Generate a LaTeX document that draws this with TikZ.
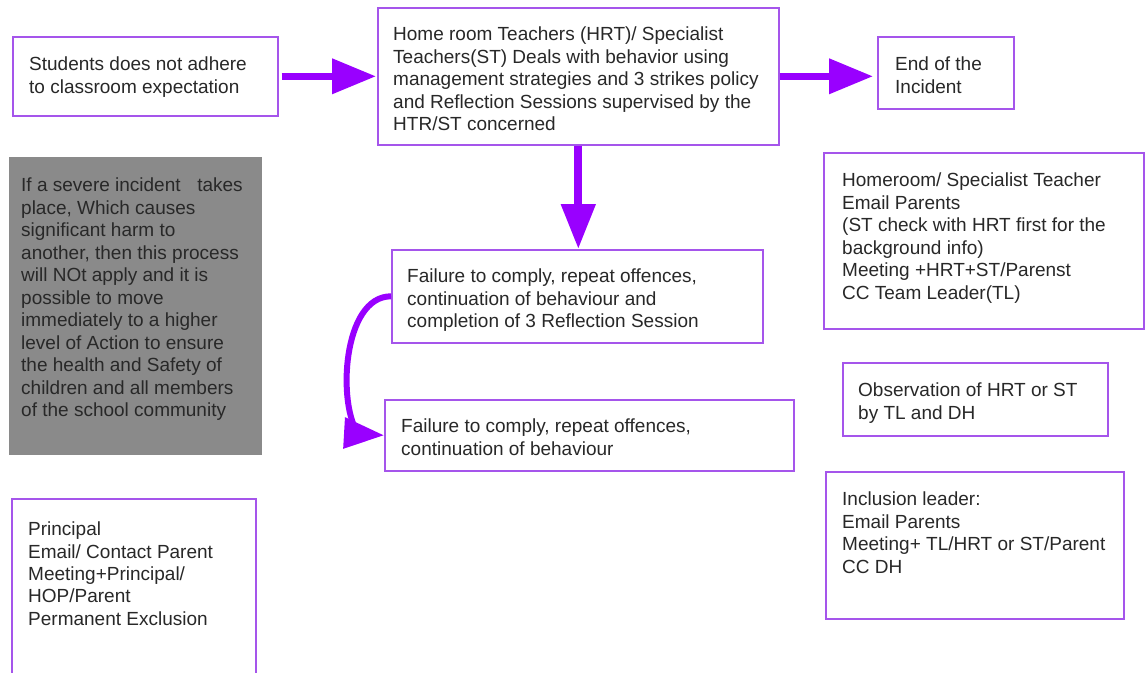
\documentclass[tikz,border=0pt]{standalone}
\usepackage{fontspec}
\setmainfont{Liberation Sans}
\usetikzlibrary{arrows.meta,bending}
\definecolor{flowpurple}{RGB}{153,0,255}
\definecolor{boxpurple}{RGB}{165,85,235}
\definecolor{notegray}{RGB}{138,138,138}
\definecolor{txtgray}{RGB}{40,40,40}

\begin{document}
\begin{tikzpicture}[x=1pt,y=-1pt,
  box/.style={draw=boxpurple,line width=1.6pt,fill=white,anchor=north west,inner sep=0pt},
  note/.style={fill=notegray,anchor=north west,inner sep=0pt},
  txt/.style={anchor=north west,inner sep=0pt,align=left,text=txtgray,font=\fontsize{19}{#1}\selectfont},
  txt/.default=22.5,
  flow/.style={-{Triangle[length=44pt,width=34pt]},line width=7pt,draw=flowpurple}]
\useasboundingbox[fill=white] (0,0) rectangle (1145,672);
\clip (0,0) rectangle (1145,672);

% top row
\node[box,minimum width=265pt,minimum height=79pt] (students) at (12,36) {};
\node[txt] (studentstxt) at ([shift={(17,21)}]students.north west)
  {Students does not adhere\\to classroom expectation};

\node[box,minimum width=401pt,minimum height=137pt] (hrt) at (377,7) {};
\node[txt] (hrttxt) at ([shift={(16,20)}]hrt.north west)
  {Home room Teachers (HRT)/ Specialist\\Teachers(ST) Deals with behavior using\\management strategies and 3 strikes policy\\and Reflection Sessions supervised by the\\HTR/ST concerned};

\node[box,minimum width=136pt,minimum height=72pt] (end) at (877,36) {};
\node[txt] (endtxt) at ([shift={(18,21)}]end.north west) {End of the\\Incident};

% left column
\node[note,minimum width=253pt,minimum height=298pt] (severe) at (9,157) {};
\node[txt] (severetxt) at ([shift={(12,21)}]severe.north west)
  {If a severe incident\hspace{0.6em} takes\\place, Which causes\\significant harm to\\another, then this process\\will NOt apply and it is\\possible to move\\immediately to a higher\\level of Action to ensure\\the health and Safety of\\children and all members\\of the school community};

\node[box,minimum width=244pt,minimum height=190pt] (principal) at (11,498) {};
\node[txt=22.3] (principaltxt) at ([shift={(17,24)}]principal.north west)
  {Principal\\Email/ Contact Parent\\Meeting+Principal/\\HOP/Parent\\Permanent Exclusion};

% middle column
\node[box,minimum width=371pt,minimum height=93pt] (fail1) at (391,249) {};
\node[txt] (fail1txt) at ([shift={(16,20)}]fail1.north west)
  {Failure to comply, repeat offences,\\continuation of behaviour and\\completion of 3 Reflection Session};

\node[box,minimum width=409pt,minimum height=71pt] (fail2) at (384,399) {};
\node[txt] (fail2txt) at ([shift={(17,20)}]fail2.north west)
  {Failure to comply, repeat offences,\\continuation of behaviour};

% right column
\node[box,minimum width=320pt,minimum height=176pt] (homeroom) at (823,152) {};
\node[txt] (homeroomtxt) at ([shift={(19,21)}]homeroom.north west)
  {Homeroom/ Specialist Teacher\\Email Parents\\(ST check with HRT first for the\\background info)\\Meeting +HRT+ST/Parenst\\CC Team Leader(TL)};

\node[box,minimum width=265pt,minimum height=73pt] (obs) at (842,362) {};
\node[txt] (obstxt) at ([shift={(16,21)}]obs.north west)
  {Observation of HRT or ST\\by TL and DH};

\node[box,minimum width=298pt,minimum height=147pt] (incl) at (825,471) {};
\node[txt] (incltxt) at ([shift={(17,21)}]incl.north west)
  {Inclusion leader:\\Email Parents\\Meeting+ TL/HRT or ST/Parent\\CC DH};

% arrows
\draw[flow,shorten <=3pt,shorten >=1pt] (students.east) -- (hrt.west);
\draw[flow,shorten >=4pt] (hrt.east) -- (hrt.east -| end.west);
\draw[flow,line width=8pt,-{Triangle[length=45pt,width=33pt]}] (hrt.south) -- (hrt.south |- fail1.north);
\draw[flow,line width=6pt,-{Triangle[length=40pt,width=30pt,flex]}] (fail1.west) to[out=180,in=222,looseness=1.15] (fail2.west);
\end{tikzpicture}
\end{document}
